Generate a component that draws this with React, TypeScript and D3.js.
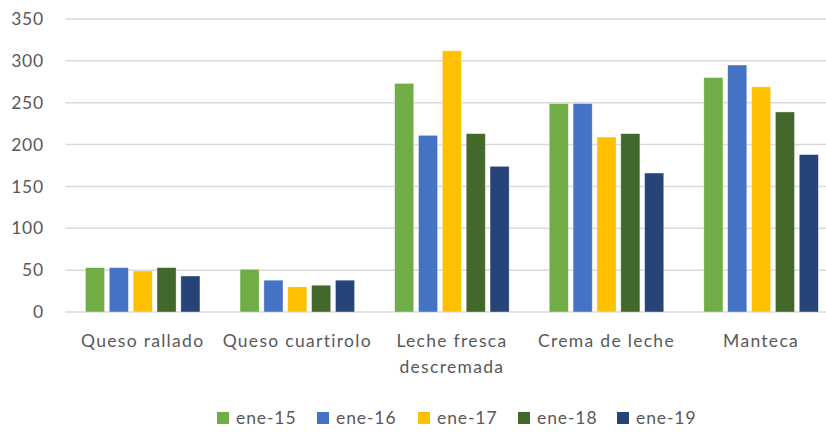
import React from "react";
import * as d3 from "d3";

const categories = [["Queso rallado"], ["Queso cuartirolo"], ["Leche fresca", "descremada"], ["Crema de leche"], ["Manteca"]];
const seriesNames = ["ene-15", "ene-16", "ene-17", "ene-18", "ene-19"];
const ene15 = [53, 51, 273, 249, 280];
const ene16 = [53, 38, 211, 249, 295];
const ene17 = [49, 30, 312, 209, 269];
const ene18 = [53, 32, 213, 213, 239];
const ene19 = [43, 38, 174, 166, 188];
const yTicks = [0, 50, 100, 150, 200, 250, 300, 350];
const colors = ["#70AD47", "#4472C4", "#FFC000", "#43682B", "#264478"];

const W = 826, H = 432;
const left = 65.4, right = 838.4, top = 19, bottom = 312;

export default function App() {
  const series = [ene15, ene16, ene17, ene18, ene19];
  const x = d3.scaleBand<number>().domain(d3.range(categories.length)).range([left, right]).paddingInner(0).paddingOuter(0);
  const y = d3.scaleLinear().domain([0, 350]).range([bottom, top]);
  const groupW = 114.5;
  const sub = d3.scaleBand<number>().domain(d3.range(seriesNames.length)).range([0, groupW]).paddingInner(0.2);
  const font = "Lato, 'Open Sans', sans-serif";
  const legendX = [217, 317, 418, 518, 617];
  return (
    <svg width={W} height={H} style={{ position: "absolute", left: 0, top: 0, background: "#fff" }}>
      {yTicks.map((t) => (
        <g key={t}>
          <line x1={left} x2={W} y1={y(t)} y2={y(t)} stroke="#d9d9d9" strokeWidth={1.5} />
          <text x={44} y={y(t)} dy="0.35em" textAnchor="end" fontFamily={font} fontSize={17.5} letterSpacing={0.8} fill="#595959">{t}</text>
        </g>
      ))}
      {categories.map((c, ci) => {
        const gx = (x(ci) as number) + (x.bandwidth() - groupW) / 2;
        return (
          <g key={ci}>
            {series.map((s, si) => (
              <rect key={si} x={gx + (sub(si) as number)} y={y(s[ci])} width={sub.bandwidth()} height={y(0) - y(s[ci])} fill={colors[si]} stroke="#fff" strokeOpacity={0.5} strokeWidth={0.7} />
            ))}
            {c.map((line, li) => (
              <text key={li} x={(x(ci) as number) + x.bandwidth() / 2} y={347 + li * 26} textAnchor="middle" fontFamily={font} fontSize={17.5} letterSpacing={1.3} fill="#595959">{line}</text>
            ))}
          </g>
        );
      })}
      {seriesNames.map((n, i) => (
        <g key={n}>
          <rect x={legendX[i]} y={412} width={12} height={12} fill={colors[i]} />
          <text x={legendX[i] + 19} y={424} fontFamily={font} fontSize={17.5} letterSpacing={0.9} fill="#595959">{n}</text>
        </g>
      ))}
    </svg>
  );
}
